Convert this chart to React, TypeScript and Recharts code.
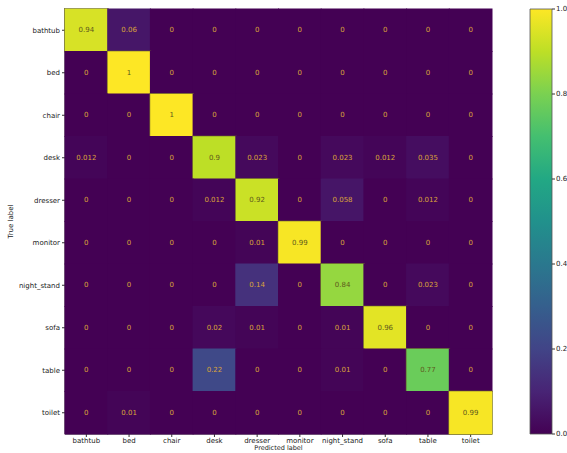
import { ScatterChart, Scatter, XAxis, YAxis, BarChart, Bar } from 'recharts'

const LABELS = [
	'bathtub',
	'bed',
	'chair',
	'desk',
	'dresser',
	'monitor',
	'night_stand',
	'sofa',
	'table',
	'toilet',
]

const MATRIX = [
	[0.94, 0.06, 0, 0, 0, 0, 0, 0, 0, 0],
	[0, 1, 0, 0, 0, 0, 0, 0, 0, 0],
	[0, 0, 1, 0, 0, 0, 0, 0, 0, 0],
	[0.012, 0, 0, 0.9, 0.023, 0, 0.023, 0.012, 0.035, 0],
	[0, 0, 0, 0.012, 0.92, 0, 0.058, 0, 0.012, 0],
	[0, 0, 0, 0, 0.01, 0.99, 0, 0, 0, 0],
	[0, 0, 0, 0, 0.14, 0, 0.84, 0, 0.023, 0],
	[0, 0, 0, 0.02, 0.01, 0, 0.01, 0.96, 0, 0],
	[0, 0, 0, 0.22, 0, 0, 0.01, 0, 0.77, 0],
	[0, 0.01, 0, 0, 0, 0, 0, 0, 0, 0.99],
]

const COLORBAR_TICKS = [0, 0.2, 0.4, 0.6, 0.8, 1]

const VIRIDIS = [
	'#440154',
	'#482475',
	'#414487',
	'#355f8d',
	'#2a788e',
	'#21918c',
	'#22a884',
	'#44bf70',
	'#7ad151',
	'#bddf26',
	'#fde725',
]

const FONT = 'DejaVu Sans'
const CHART_W = 500
const CHART_H = 453
const MARGIN = { top: 9, right: 8, bottom: 0, left: 0 }
const Y_W = 65
const X_H = 19
const CELL_W = (CHART_W - MARGIN.left - MARGIN.right - Y_W) / LABELS.length
const CELL_H = (CHART_H - MARGIN.top - MARGIN.bottom - X_H) / LABELS.length

const hex = (h: string) => [1, 3, 5].map((i) => parseInt(h.slice(i, i + 2), 16))

const viridis = (t: number) => {
	const p = Math.max(0, Math.min(1, t)) * (VIRIDIS.length - 1)
	const i = Math.min(Math.floor(p), VIRIDIS.length - 2)
	const f = p - i
	const a = hex(VIRIDIS[i])
	const b = hex(VIRIDIS[i + 1])
	const c = a.map((v, k) => Math.round(v + (b[k] - v) * f))
	return `rgb(${c[0]},${c[1]},${c[2]})`
}

const cells = MATRIX.flatMap((row, r) =>
	row.map((v, c) => ({ x: c, y: r, v }))
)

const CellShape = (props: any) => {
	const { cx, cy, payload } = props
	const v = payload.v
	return (
		<g>
			<rect
				x={cx - CELL_W / 2 - 0.5}
				y={cy - CELL_H / 2 - 0.5}
				width={CELL_W + 1}
				height={CELL_H + 1}
				fill={viridis(v)}
				stroke={v > 0.5 ? '#6d6a2a' : 'none'}
				strokeWidth={0.6}
			/>
			<text
				x={cx}
				y={cy}
				textAnchor="middle"
				dominantBaseline="central"
				fontSize={7}
				fontFamily={FONT}
				fill={v > 0.5 ? '#5e5a1c' : '#dba43a'}>
				{String(v)}
			</text>
		</g>
	)
}

const tickStyle = { fontSize: 7, fontFamily: FONT, fill: '#1a1a1a' }
const idx = LABELS.map((_, i) => i)

export default function App() {
	return (
		<div style={{ position: 'absolute', left: 0, top: 0, display: 'flex' }}>
			<ScatterChart width={CHART_W} height={CHART_H} margin={MARGIN}>
				<XAxis
					type="number"
					dataKey="x"
					domain={[-0.5, 9.5]}
					ticks={idx}
					tickFormatter={(i) => LABELS[i]}
					interval={0}
					height={X_H}
					tick={tickStyle}
					tickSize={3}
					tickMargin={1}
					stroke="#333"
					label={{
						value: 'Predicted label',
						position: 'bottom',
						offset: -7.5,
						style: { fontSize: 6.5, fontFamily: FONT, fill: '#1a1a1a' },
					}}
				/>
				<YAxis
					type="number"
					dataKey="y"
					domain={[-0.5, 9.5]}
					reversed
					ticks={idx}
					tickFormatter={(i) => LABELS[i]}
					interval={0}
					width={Y_W}
					tick={tickStyle}
					tickSize={3}
					tickMargin={2}
					stroke="#333"
					label={{
						value: 'True label',
						angle: -90,
						position: 'insideLeft',
						offset: 11,
						style: {
							fontSize: 7,
							fontFamily: FONT,
							fill: '#1a1a1a',
							textAnchor: 'middle',
						},
					}}
				/>
				<XAxis
					xAxisId="top"
					orientation="top"
					type="number"
					domain={[-0.5, 9.5]}
					tick={false}
					height={0}
					stroke="#555"
				/>
				<YAxis
					yAxisId="right"
					orientation="right"
					type="number"
					domain={[-0.5, 9.5]}
					tick={false}
					width={0}
					stroke="#555"
				/>
				<Scatter
					data={cells}
					shape={CellShape}
					isAnimationActive={false}
				/>
			</ScatterChart>
			<BarChart
				width={67}
				height={CHART_H}
				data={[{ name: 'cb', v: 1 }]}
				margin={{ top: 9, right: 0, bottom: 19, left: 30 }}
				barCategoryGap={0}>
				<defs>
					<linearGradient id="viridis" x1="0" y1="1" x2="0" y2="0">
						{VIRIDIS.map((c, i) => (
							<stop key={i} offset={i / (VIRIDIS.length - 1)} stopColor={c} />
						))}
					</linearGradient>
				</defs>
				<XAxis dataKey="name" hide />
				<YAxis
					orientation="right"
					domain={[0, 1]}
					ticks={COLORBAR_TICKS}
					tickFormatter={(v) => v.toFixed(1)}
					width={15}
					tick={tickStyle}
					tickSize={3}
					tickMargin={1}
					axisLine={false}
					stroke="#333"
				/>
				<Bar
					dataKey="v"
					fill="url(#viridis)"
					stroke="#555"
					strokeWidth={0.8}
					isAnimationActive={false}
				/>
			</BarChart>
		</div>
	)
}
